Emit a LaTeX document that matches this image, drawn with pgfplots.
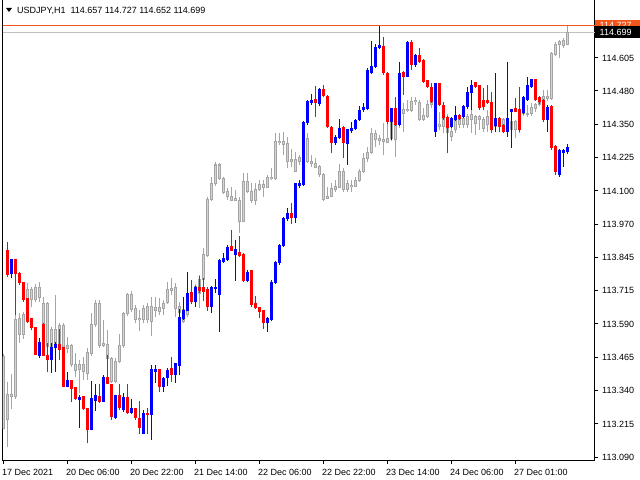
\documentclass[border=0pt]{standalone}
\usepackage{pgfplots}
\pgfplotsset{compat=1.18}
\usepackage{pgfplotstable}
\usepackage{fontspec}
\setmainfont{Liberation Sans}
\definecolor{cgray}{RGB}{165,165,165}
\definecolor{cgrayin}{RGB}{212,212,212}
\definecolor{cline}{RGB}{192,192,192}
\definecolor{corange}{RGB}{245,85,25}
\definecolor{cred}{RGB}{255,0,0}
\definecolor{cblue}{RGB}{0,0,255}
\newcommand{\fs}{\fontsize{9bp}{11bp}\selectfont}

% x = bar index (H1), o h l c
\pgfplotstableread{
x o h l c
0 113.471 113.480 113.195 113.199
1 113.328 113.376 113.129 113.233
2 113.328 113.404 113.273 113.319
3 113.319 113.641 113.310 113.612
4 113.616 113.638 113.524 113.555
5 113.555 113.641 113.539 113.631
6 113.688 113.749 113.680 113.724
7 113.724 113.737 113.660 113.686
8 113.686 113.745 113.680 113.734
9 113.734 113.755 113.679 113.696
10 113.673 113.698 113.572 113.585
11 113.673 113.680 113.502 113.509
12 113.574 113.585 113.500 113.511
13 113.574 113.705 113.500 113.509
14 113.588 113.598 113.500 113.509
15 113.588 113.598 113.500 113.509
16 113.514 113.547 113.483 113.502
17 113.514 113.520 113.433 113.443
18 113.443 113.483 113.395 113.418
19 113.443 113.458 113.332 113.423
20 113.443 113.471 113.382 113.414
21 113.407 113.502 113.382 113.487
22 113.483 113.635 113.475 113.593
23 113.593 113.686 113.584 113.673
24 113.673 113.686 113.505 113.514
25 113.521 113.610 113.509 113.514
26 113.517 113.572 113.455 113.464
27 113.464 113.470 113.370 113.376
28 113.376 113.464 113.370 113.452
29 113.452 113.557 113.445 113.514
30 113.514 113.641 113.505 113.635
31 113.635 113.711 113.625 113.705
32 113.705 113.720 113.640 113.650
33 113.654 113.665 113.600 113.612
34 113.616 113.648 113.569 113.610
35 113.610 113.665 113.600 113.654
36 113.660 113.676 113.600 113.610
37 113.606 113.698 113.550 113.660
38 113.658 113.698 113.623 113.645
39 113.658 113.692 113.629 113.642
40 113.654 113.686 113.629 113.673
41 113.676 113.755 113.670 113.724
42 113.730 113.768 113.705 113.721
43 113.734 113.749 113.620 113.654
44 113.661 113.679 113.610 113.639
45 113.648 113.698 113.600 113.604
46 113.629 113.711 113.620 113.661
47 113.679 113.720 113.670 113.711
48 113.705 113.745 113.700 113.736
49 113.711 113.781 113.654 113.762
50 113.762 113.882 113.755 113.857
51 113.853 114.078 113.850 114.068
52 114.068 114.154 114.060 114.126
53 114.126 114.211 114.120 114.198
54 114.198 114.205 114.140 114.147
55 114.147 114.154 114.088 114.093
56 114.099 114.109 114.065 114.078
57 114.080 114.116 114.060 114.063
58 114.072 114.103 114.060 114.065
59 114.065 114.078 113.939 113.983
60 113.983 114.166 113.980 114.137
61 114.137 114.166 114.090 114.097
62 114.099 114.128 114.055 114.063
63 114.063 114.128 114.046 114.106
64 114.106 114.141 114.100 114.125
65 114.125 114.141 114.078 114.113
66 114.113 114.160 114.110 114.151
67 114.151 114.185 114.140 114.145
68 114.145 114.318 114.140 114.289
69 114.289 114.318 114.275 114.283
70 114.287 114.324 114.236 114.276
71 114.278 114.306 114.185 114.211
72 114.211 114.257 114.189 114.219
73 114.219 114.249 114.170 114.173
74 114.211 114.236 114.198 114.227
75 114.227 114.262 114.205 114.240
76 114.211 114.318 114.204 114.299
77 114.211 114.236 114.192 114.202
78 114.202 114.223 114.185 114.189
79 114.194 114.198 114.154 114.163
80 114.163 114.169 114.063 114.068
81 114.072 114.116 114.068 114.080
82 114.080 114.128 114.075 114.109
83 114.106 114.141 114.097 114.118
84 114.113 114.202 114.109 114.173
85 114.173 114.185 114.097 114.106
86 114.106 114.141 114.097 114.126
87 114.122 114.141 114.097 114.118
88 114.118 114.154 114.113 114.139
89 114.139 114.182 114.135 114.173
90 114.173 114.245 114.169 114.223
91 114.223 114.268 114.211 114.245
92 114.245 114.337 114.240 114.318
93 114.318 114.331 114.268 114.295
94 114.290 114.312 114.274 114.299
95 114.293 114.356 114.236 114.286
96 114.283 114.362 114.280 114.299
97 114.299 114.375 114.290 114.362
98 114.350 114.362 114.229 114.293
99 114.355 114.410 114.340 114.395
100 114.394 114.432 114.324 114.407
101 114.404 114.444 114.400 114.409
102 114.404 114.457 114.400 114.438
103 114.438 114.457 114.426 114.444
104 114.434 114.444 114.365 114.371
105 114.371 114.413 114.365 114.384
106 114.381 114.444 114.375 114.429
107 114.426 114.444 114.415 114.438
108 114.415 114.425 114.380 114.395
109 114.350 114.400 114.330 114.343
110 114.343 114.400 114.320 114.381
111 114.375 114.390 114.300 114.321
112 114.324 114.340 114.290 114.305
113 114.331 114.400 114.320 114.381
114 114.375 114.390 114.340 114.350
115 114.350 114.385 114.340 114.375
116 114.381 114.390 114.340 114.350
117 114.369 114.407 114.318 114.388
118 114.381 114.388 114.312 114.356
119 114.369 114.388 114.331 114.381
120 114.369 114.380 114.324 114.337
121 114.350 114.407 114.324 114.381
122 114.369 114.380 114.330 114.343
123 114.343 114.381 114.331 114.375
124 114.369 114.375 114.331 114.343
125 114.337 114.375 114.324 114.369
126 114.369 114.375 114.318 114.331
127 114.331 114.369 114.312 114.362
128 114.362 114.369 114.299 114.333
129 114.331 114.407 114.318 114.394
130 114.394 114.430 114.385 114.426
131 114.394 114.426 114.380 114.391
132 114.394 114.432 114.385 114.417
133 114.413 114.432 114.400 114.426
134 114.426 114.457 114.420 114.444
135 114.444 114.482 114.413 114.457
136 114.457 114.482 114.440 114.451
137 114.451 114.628 114.445 114.622
138 114.619 114.666 114.610 114.657
139 114.657 114.672 114.603 114.666
140 114.670 114.678 114.640 114.653
141 114.657 114.727 114.652 114.699
}\graytab

\pgfplotstableread{
x o h l c
1 113.875 113.907 113.774 113.781
3 113.840 113.840 113.629 113.783
4 113.787 113.793 113.743 113.749
5 113.753 113.753 113.679 113.686
6 113.692 113.692 113.597 113.603
7 113.616 113.616 113.572 113.578
8 113.584 113.584 113.477 113.477
10 113.593 113.600 113.474 113.474
11 113.477 113.521 113.414 113.458
14 113.517 113.576 113.458 113.498
15 113.509 113.509 113.357 113.357
17 113.382 113.382 113.297 113.348
18 113.354 113.354 113.306 113.311
20 113.321 113.321 113.268 113.272
21 113.277 113.277 113.142 113.192
24 113.323 113.367 113.296 113.300
26 113.392 113.477 113.367 113.367
27 113.367 113.367 113.230 113.243
29 113.325 113.367 113.270 113.277
31 113.319 113.367 113.255 113.259
33 113.277 113.277 113.230 113.237
34 113.240 113.302 113.177 113.199
36 113.259 113.277 113.177 113.249
39 113.423 113.423 113.338 113.357
42 113.427 113.471 113.376 113.401
47 113.715 113.762 113.671 113.679
49 113.736 113.777 113.711 113.721
50 113.734 113.771 113.683 113.717
51 113.728 113.734 113.645 113.661
57 113.891 113.951 113.870 113.873
59 113.869 113.930 113.850 113.853
60 113.860 113.863 113.755 113.759
62 113.800 113.800 113.661 113.667
63 113.673 113.701 113.650 113.654
64 113.661 113.661 113.616 113.639
65 113.648 113.648 113.575 113.597
72 114.017 114.053 113.974 113.996
78 114.447 114.498 114.381 114.432
80 114.485 114.502 114.455 114.460
81 114.460 114.462 114.340 114.343
82 114.343 114.345 114.242 114.280
85 114.341 114.345 114.223 114.280
95 114.650 114.682 114.540 114.546
96 114.546 114.552 114.355 114.362
98 114.413 114.457 114.345 114.350
100 114.552 114.555 114.463 114.533
102 114.666 114.672 114.558 114.577
104 114.615 114.640 114.585 114.590
105 114.596 114.599 114.510 114.514
106 114.520 114.522 114.490 114.495
107 114.495 114.508 114.435 114.438
109 114.508 114.510 114.420 114.426
110 114.426 114.438 114.370 114.375
111 114.381 114.385 114.242 114.337
114 114.388 114.390 114.368 114.371
118 114.512 114.514 114.490 114.495
119 114.501 114.501 114.406 114.413
120 114.444 114.489 114.406 114.417
121 114.444 114.501 114.430 114.432
122 114.438 114.476 114.318 114.331
124 114.375 114.380 114.324 114.343
125 114.350 114.352 114.318 114.322
128 114.413 114.451 114.398 114.400
129 114.409 114.495 114.325 114.331
133 114.523 114.525 114.440 114.444
134 114.455 114.460 114.430 114.438
135 114.444 114.450 114.360 114.369
137 114.422 114.425 114.255 114.261
138 114.270 114.272 114.160 114.173
}\redtab

\pgfplotstableread{
x o h l c
2 113.783 113.840 113.768 113.840
9 113.474 113.540 113.467 113.525
12 113.458 113.521 113.410 113.509
13 113.502 113.528 113.414 113.517
16 113.354 113.414 113.354 113.382
19 113.306 113.325 113.199 113.319
22 113.192 113.380 113.192 113.313
23 113.304 113.367 113.266 113.325
25 113.300 113.401 113.300 113.395
28 113.240 113.325 113.235 113.325
30 113.268 113.332 113.260 113.316
32 113.259 113.309 113.255 113.277
35 113.177 113.270 113.177 113.256
37 113.249 113.439 113.155 113.423
38 113.414 113.439 113.372 113.423
40 113.357 113.395 113.335 113.389
41 113.389 113.427 113.360 113.420
43 113.401 113.448 113.370 113.446
44 113.435 113.650 113.401 113.623
45 113.612 113.696 113.610 113.648
46 113.644 113.793 113.644 113.711
48 113.679 113.740 113.661 113.736
52 113.661 113.740 113.635 113.736
53 113.726 113.765 113.711 113.736
54 113.705 113.841 113.566 113.838
55 113.831 113.865 113.827 113.844
56 113.838 113.894 113.835 113.888
58 113.857 113.913 113.758 113.878
61 113.759 113.800 113.755 113.793
66 113.597 113.620 113.566 113.616
67 113.610 113.760 113.605 113.755
68 113.749 113.835 113.745 113.831
69 113.825 113.900 113.820 113.894
70 113.890 114.002 113.885 113.996
71 113.992 114.034 113.985 114.015
73 113.996 114.131 113.979 114.131
74 114.118 114.141 114.109 114.128
75 114.122 114.365 114.118 114.362
76 114.356 114.445 114.350 114.442
77 114.432 114.467 114.426 114.445
79 114.429 114.490 114.420 114.485
83 114.280 114.310 114.275 114.306
84 114.299 114.371 114.295 114.337
86 114.278 114.335 114.198 114.333
87 114.327 114.362 114.320 114.337
88 114.333 114.372 114.330 114.369
89 114.369 114.422 114.365 114.407
90 114.407 114.432 114.400 114.417
91 114.410 114.565 114.405 114.558
92 114.548 114.670 114.545 114.573
93 114.571 114.657 114.565 114.647
94 114.641 114.725 114.638 114.653
97 114.362 114.415 114.293 114.413
99 114.350 114.587 114.345 114.548
101 114.533 114.670 114.530 114.666
103 114.577 114.618 114.570 114.615
108 114.324 114.510 114.305 114.508
112 114.343 114.380 114.340 114.375
113 114.369 114.422 114.365 114.388
115 114.379 114.425 114.375 114.422
116 114.417 114.495 114.410 114.476
117 114.470 114.520 114.406 114.501
123 114.346 114.546 114.324 114.377
126 114.322 114.587 114.305 114.375
127 114.400 114.412 114.261 114.409
130 114.396 114.458 114.390 114.455
131 114.444 114.533 114.440 114.501
132 114.495 114.525 114.490 114.523
136 114.369 114.425 114.324 114.419
139 114.160 114.258 114.154 114.255
140 114.245 114.258 114.192 114.255
141 114.248 114.278 114.240 114.265
}\bluetab

\begin{document}
\begin{tikzpicture}
\path[use as bounding box, fill=white] (0,0) rectangle (640bp,480bp);
\begin{axis}[
  at={(2.5bp,19.5bp)}, anchor=south west,
  scale only axis, width=592bp, height=460.5bp,
  xmin=-0.25, xmax=147.75, ymin=113.0769, ymax=114.824,
  axis x line*=bottom, axis y line*=right,
  axis line style={-, black, line width=1bp},
  clip mode=individual,
  tick align=outside, major tick length=3bp,
  tick style={black, line width=1bp},
  xtick={0,16,32,48,64,80,96,112,128},
  xticklabels={17 Dec 2021,20 Dec 06:00,20 Dec 22:00,21 Dec 14:00,22 Dec 06:00,22 Dec 22:00,23 Dec 14:00,24 Dec 06:00,27 Dec 01:00},
  ytick={113.09,113.21625,113.3425,113.46875,113.595,113.72125,113.8475,113.97375,114.1,114.22625,114.3525,114.47875,114.605},
  yticklabels={113.090,113.215,113.340,113.465,113.590,113.715,113.845,113.970,114.100,114.225,114.350,114.480,114.605},
  xticklabel style={font=\fs, anchor=base west, inner sep=0pt, xshift=-1.5bp, yshift=-12.2bp},
  yticklabel style={font=\fs, anchor=base west, inner sep=0pt, xshift=4.5bp, yshift=-3.3bp},
]
\draw[black, line width=1bp] (rel axis cs:0,0) -- (rel axis cs:0,1);
\draw[cline, line width=1bp] (axis cs:-0.25,114.699) -- (axis cs:147.75,114.699);
\draw[corange, line width=1bp] (axis cs:-0.25,114.727) -- (axis cs:147.75,114.727);

% gray candles: wicks, outlined bodies, light interior
\addplot[draw=none, mark=none, forget plot, error bars/.cd, y dir=plus, y explicit, error mark=none,
  error bar style={draw=cgray, line width=1bp}]
  table[x=x, y=l, y error expr=\thisrow{h}-\thisrow{l}] {\graytab};
\addplot[draw=none, mark=none, forget plot, error bars/.cd, y dir=plus, y explicit, error mark=none,
  error bar style={draw=cgray, line width=3bp}]
  table[x=x, y expr={min(\thisrow{o},\thisrow{c})-0.0019}, y error expr={abs(\thisrow{o}-\thisrow{c})+0.0038}] {\graytab};
\addplot[draw=none, mark=none, forget plot, error bars/.cd, y dir=plus, y explicit, error mark=none,
  error bar style={draw=cgrayin, line width=1bp}]
  table[x=x, y expr={min(\thisrow{o},\thisrow{c})+0.0019}, y error expr={max(abs(\thisrow{o}-\thisrow{c})-0.0038,0)}] {\graytab};

% red candles
\addplot[draw=none, mark=none, forget plot, error bars/.cd, y dir=plus, y explicit, error mark=none,
  error bar style={draw=cred, line width=1bp}]
  table[x=x, y=l, y error expr=\thisrow{h}-\thisrow{l}] {\redtab};
\addplot[draw=none, mark=none, forget plot, error bars/.cd, y dir=plus, y explicit, error mark=none,
  error bar style={draw=cred, line width=3.8bp}]
  table[x=x, y=c, y error expr={max(\thisrow{o}-\thisrow{c},0.0038)}] {\redtab};

% blue candles
\addplot[draw=none, mark=none, forget plot, error bars/.cd, y dir=plus, y explicit, error mark=none,
  error bar style={draw=cblue, line width=1bp}]
  table[x=x, y=l, y error expr=\thisrow{h}-\thisrow{l}] {\bluetab};
\addplot[draw=none, mark=none, forget plot, error bars/.cd, y dir=plus, y explicit, error mark=none,
  error bar style={draw=cblue, line width=3.8bp}]
  table[x=x, y=o, y error expr={max(\thisrow{c}-\thisrow{o},0.0038)}] {\bluetab};

% price tags
\fill[corange] (axis cs:147.75,114.727) ++(0bp,-6bp) rectangle ++(46bp,12bp);
\node[font=\fs, text=white, anchor=base west, inner sep=0pt, xshift=5bp, yshift=-3.3bp] at (axis cs:147.75,114.727) {114.727};
\fill[black] (axis cs:147.75,114.699) ++(0bp,-5bp) rectangle ++(46bp,12bp);
\node[font=\fs, text=white, anchor=base west, inner sep=0pt, xshift=5bp, yshift=-2.3bp] at (axis cs:147.75,114.699) {114.699};
\end{axis}
\fill[black] (6bp,472bp) -- (12bp,472bp) -- (9bp,468bp) -- cycle;
\node[font=\fs, anchor=base west, inner sep=0pt] at (17bp,466bp) {USDJPY,H1\ \ 114.657 114.727 114.652 114.699};
\end{tikzpicture}
\end{document}
